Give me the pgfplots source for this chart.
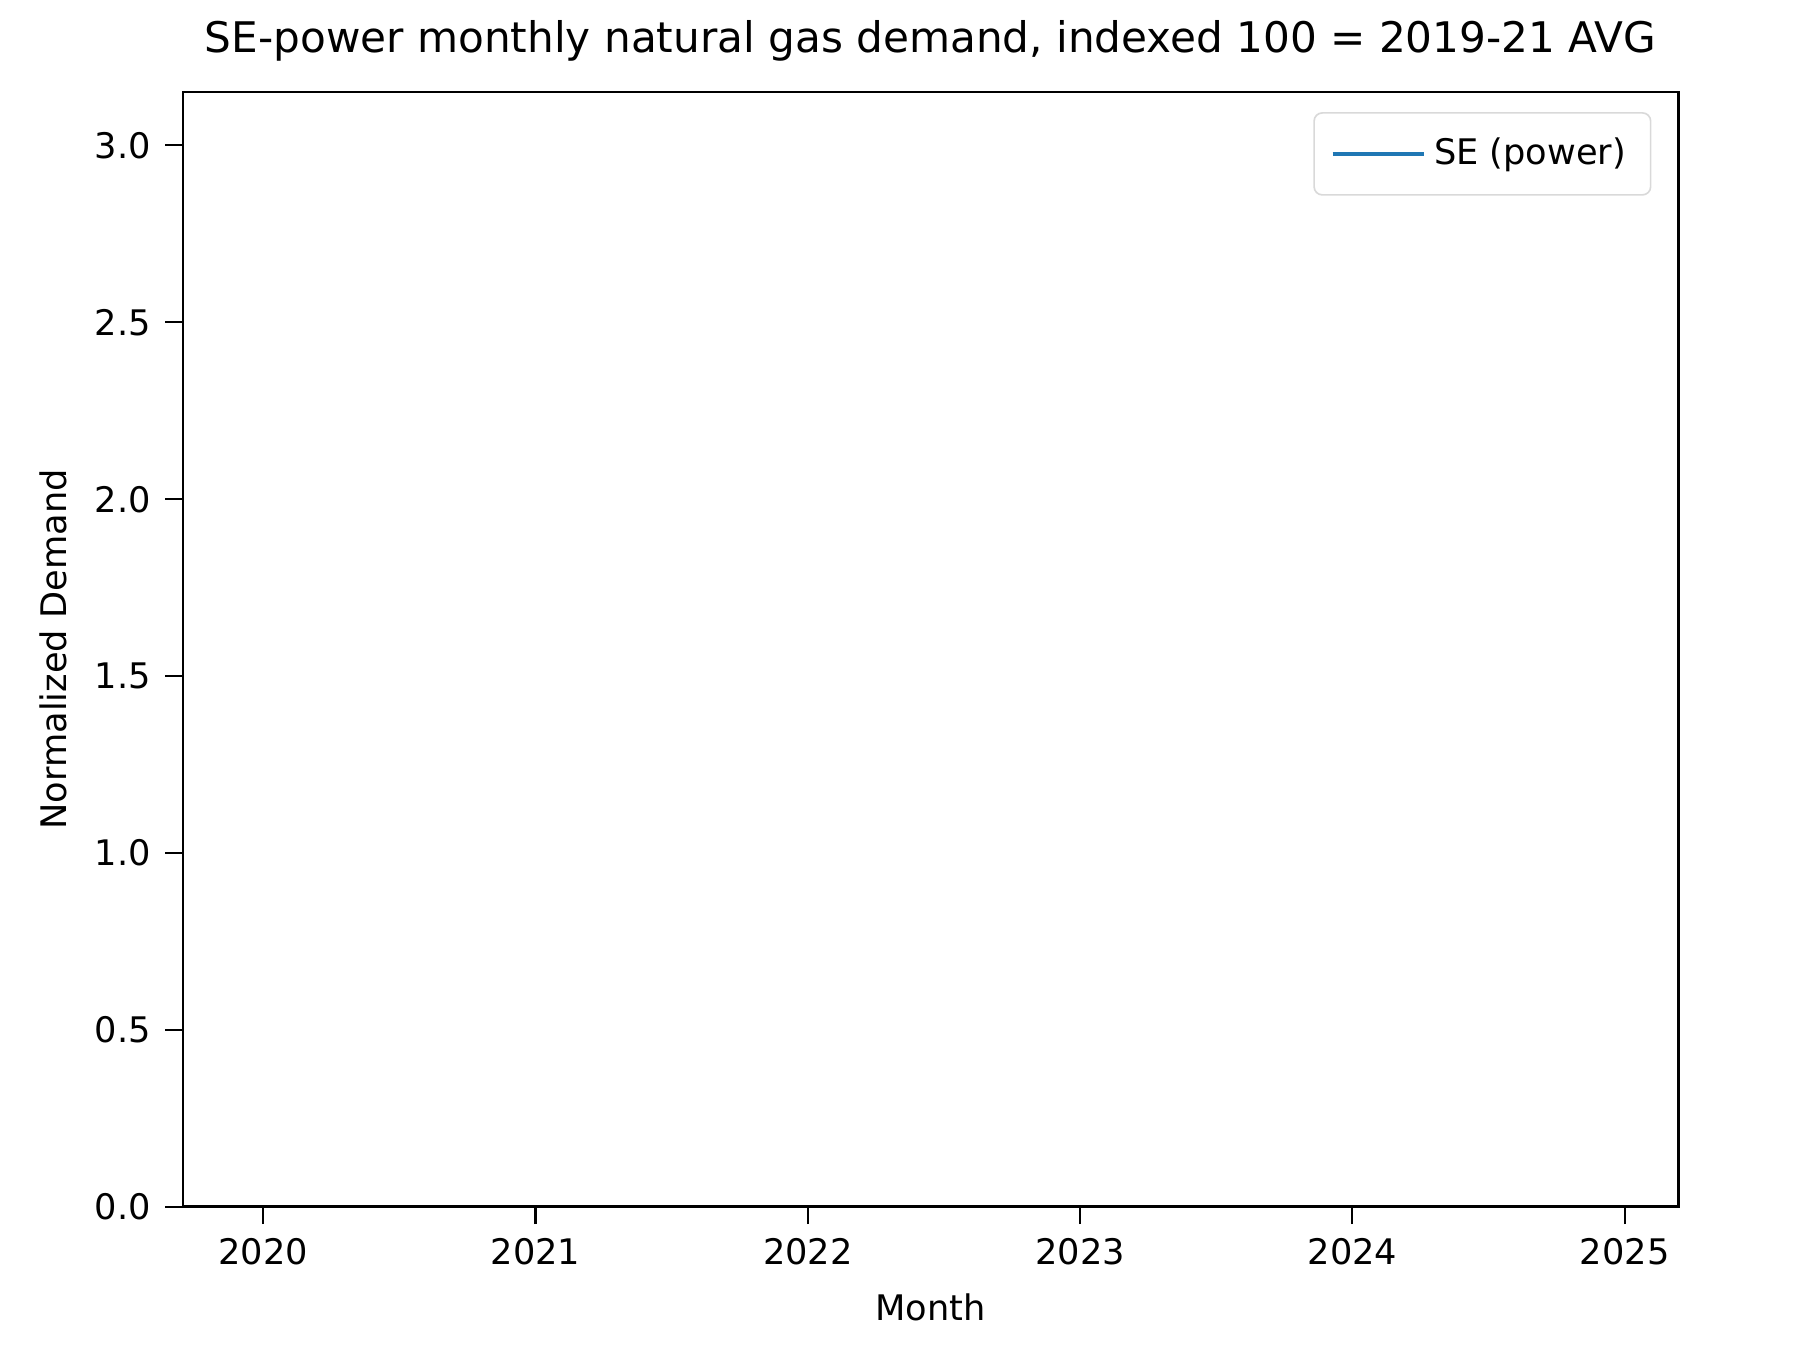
\documentclass[border=0pt]{standalone}
\usepackage{pgfplots}
\pgfplotsset{compat=1.18}
\usepackage{fontspec}
\setmainfont{DejaVu Sans}
\definecolor{tabblue}{HTML}{1F77B4}
\begin{document}
\begin{tikzpicture}
\begin{axis}[name=ax,
  scale only axis, width=12.84cm, height=9.57cm,
  xmin=2019.705, xmax=2025.197, ymin=0, ymax=3.151,
  xtick={2020,2021,2022,2023,2024,2025},
  xticklabels={2020,2021,2022,2023,2024,2025},
  ytick={0,0.5,1,1.5,2,2.5,3},
  yticklabels={0.0,0.5,1.0,1.5,2.0,2.5,3.0},
  tick align=outside, tick pos=left,
  major tick style={black, line width=0.5pt},
  axis line style={line width=0.6pt},
  ticklabel style={font=\fontsize{8.6}{10}\selectfont},
  xlabel={Month}, ylabel={Normalized Demand},
  label style={font=\fontsize{8.6}{10}\selectfont},
  title={SE-power monthly natural gas demand, indexed 100 = 2019-21 AVG},
  title style={font=\fontsize{10.3}{12}\selectfont, yshift=-2pt},
  legend style={at={(0.982,0.982)}, anchor=north east, draw=black!15, rounded corners=2pt,
    font=\fontsize{8.6}{10}\selectfont, inner sep=4pt},
  legend cell align=left,
  legend image post style={xscale=1.3},
]
\addlegendimage{tabblue, line width=1.1pt}
\addlegendentry{SE (power)}
\end{axis}
\path ([shift={(-1.57cm,-1.29cm)}]ax.south west) rectangle ([shift={(1.19cm,0.79cm)}]ax.north east);
\end{tikzpicture}
\end{document}
